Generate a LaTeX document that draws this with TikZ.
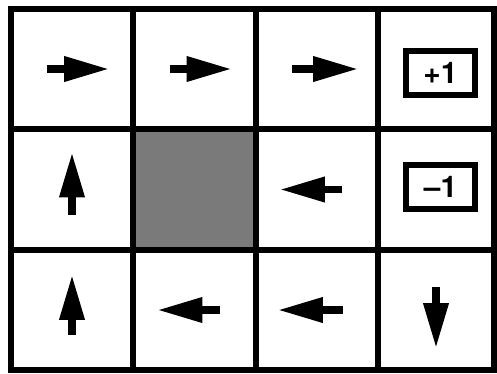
\documentclass[tikz,border=0pt]{standalone}
\usepackage{fontspec}
\setsansfont{TeX Gyre Heros}
\usetikzlibrary{arrows.meta,calc}

\begin{document}
\begin{tikzpicture}[x=0.02cm,y=-0.02cm,
    wall/.style={line width=3.4pt},
    policy/.style={line width=4pt,-{Triangle[length=0.9cm,width=0.48cm]}},
    reward/.style={draw,line width=3.4pt,minimum width=1.38cm,minimum height=0.88cm,
      inner sep=0pt,font=\fontsize{17}{17}\selectfont\sffamily\bfseries}]
        \useasboundingbox (0,0) rectangle (497,373);
        % cell centres
        \coordinate (s11) at (72,69);
        \coordinate (s12) at (194.5,69);
        \coordinate (s13) at (317,69);
        \coordinate (s14) at (436,69);
        \coordinate (s21) at (72,189.5);
        \coordinate (s23) at (317,189.5);
        \coordinate (s24) at (436,189.5);
        \coordinate (s31) at (72,310);
        \coordinate (s32) at (194.5,310);
        \coordinate (s33) at (317,310);
        \coordinate (s34) at (436,310);
        % obstacle
        \fill[black!52] (133,129) rectangle (256,250);
        % grid
        \draw[wall] (11,9) rectangle (494,370);
        \foreach \x in {133,256,378} \draw[wall] (\x,9) -- (\x,370);
        \foreach \y in {129,250} \draw[wall] (11,\y) -- (494,\y);
        % policy
        \draw[policy] ($(s11)+(-25,0)$) -- ($(s11)+(37,0)$);
        \draw[policy] ($(s12)+(-25,0)$) -- ($(s12)+(37,0)$);
        \draw[policy] ($(s13)+(-25,0)$) -- ($(s13)+(41,0)$);
        \draw[policy] ($(s21)+(0,25)$) -- ($(s21)+(0,-37)$);
        \draw[policy] ($(s23)+(25,0)$) -- ($(s23)+(-37,0)$);
        \draw[policy] ($(s31)+(0,25)$) -- ($(s31)+(0,-35)$);
        \draw[policy] ($(s32)+(25,0)$) -- ($(s32)+(-37,0)$);
        \draw[policy] ($(s33)+(26,0)$) -- ($(s33)+(-39,0)$);
        \draw[policy] ($(s34)+(0,-23)$) -- ($(s34)+(0,38)$);
        % rewards
        \node[reward] (plus) at ($(s14)+(4.5,4)$) {+1};
        \node[reward] (minus) at ($(s24)+(4.5,-2.5)$) {\textendash1};
      \end{tikzpicture}
\end{document}
